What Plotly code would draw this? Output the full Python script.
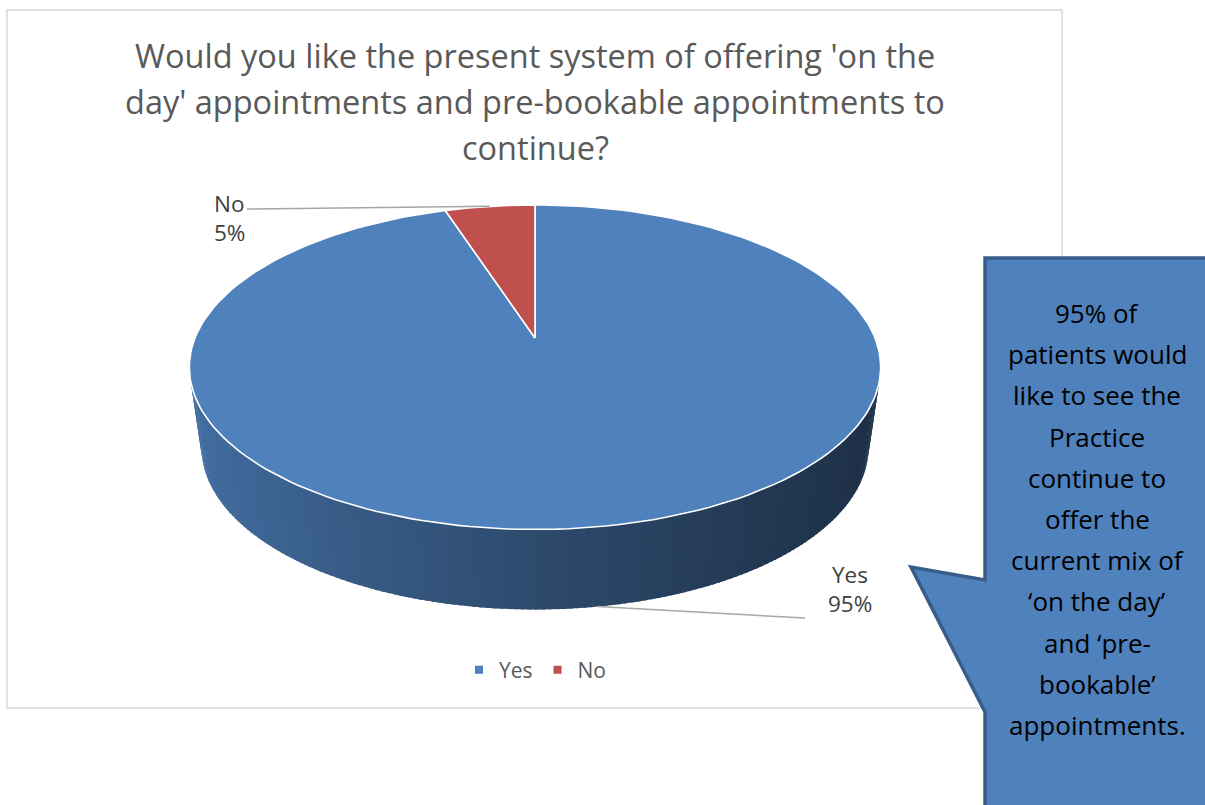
import numpy as np
import plotly.graph_objects as go

# Survey answers
categories = ["Yes", "No"]
shares = [95, 5]
slice_colors = ["#4F81BD", "#C0504D"]

title_lines = [
    "Would you like the present system of offering 'on the",
    "day' appointments and pre-bookable appointments to",
    "continue?",
]

callout_lines = [
    "95% of", "patients would", "like to see the", "Practice",
    "continue to", "offer the", "current mix of", "\u2018on the day\u2019",
    "and \u2018pre-", "bookable\u2019", "appointments.",
]

W, H = 1205, 805
FONT = "Open Sans, sans-serif"

# 3-D pie geometry (pixel space, y grows downward)
CX, CY = 535, 338
RX, RY = 340, 157
PERSP = 0.18
DEPTH = 80
BOTTOM_SHRINK = 0.965   # lower rim sits a little further from the eye


def project(phi, drop=0.0):
    """Project a rim angle (clockwise from 12 o'clock) onto the tilted disc."""
    u = np.sin(phi)
    v = np.cos(phi)
    s = 1 + PERSP * v
    k = BOTTOM_SHRINK if drop else 1.0
    return CX + k * RX * u / s, CY - RY * v / s + drop


def rgb(hex_color):
    h = hex_color.lstrip("#")
    return [int(h[i:i + 2], 16) for i in (0, 2, 4)]


total = float(sum(shares))
bounds = np.concatenate([[0.0], np.cumsum(shares) / total * 2 * np.pi])

fig = go.Figure()

# Visible wall of the disc lies between the two silhouette angles
sil = np.arccos(-PERSP)
wall_lo, wall_hi = sil, 2 * np.pi - sil

for i, cat in enumerate(categories):
    a0, a1 = max(bounds[i], wall_lo), min(bounds[i + 1], wall_hi)
    if a1 <= a0:
        continue
    base = np.array(rgb(slice_colors[i]), dtype=float)
    n = max(2, int(np.degrees(a1 - a0) / 1.0))
    step = (a1 - a0) / n
    edges = np.linspace(a0, a1, n + 1)
    for j in range(n):
        p0 = edges[j]
        p1 = min(edges[j + 1] + 0.6 * step, a1)   # slight overlap hides seams
        arc = np.linspace(p0, p1, 4)
        tx, ty = project(arc)
        bx, by = project(arc[::-1], DEPTH)
        xm = float(np.mean(tx))
        t = np.clip((xm - (CX - RX)) / (2 * RX), 0, 1)
        f = 0.85 - 0.47 * t ** 0.8
        c = "rgb(%d,%d,%d)" % tuple((base * f).astype(int))
        fig.add_trace(go.Scatter(
            x=np.concatenate([tx, bx, tx[:1]]),
            y=np.concatenate([ty, by, ty[:1]]),
            mode="lines", fill="toself", fillcolor=c,
            line=dict(width=0), hoverinfo="skip", showlegend=False,
        ))

# Top faces of the slices
for i, cat in enumerate(categories):
    phis = np.linspace(bounds[i], bounds[i + 1], 200)
    ax, ay = project(phis)
    xs = np.concatenate([[CX], ax, [CX]])
    ys = np.concatenate([[CY], ay, [CY]])
    fig.add_trace(go.Scatter(
        x=xs, y=ys, mode="lines", fill="toself",
        fillcolor=slice_colors[i], line=dict(color="white", width=1.6),
        name=cat, hoverinfo="skip", showlegend=False,
    ))

# Legend keys
for i, cat in enumerate(categories):
    fig.add_trace(go.Scatter(
        x=[None], y=[None], mode="markers", name=cat,
        marker=dict(symbol="square", size=8, color=slice_colors[i]),
    ))

# Data labels with leader lines
label_pos = {"No": (229, 203), "Yes": (850, 574)}
leader_start = {"No": (247, 209), "Yes": (805, 618)}
annotations = []
for i, cat in enumerate(categories):
    mid = (bounds[i] + bounds[i + 1]) / 2
    on_front = np.cos(mid) < -PERSP
    ex, ey = project(mid, DEPTH if on_front else 0.0)
    sx, sy = leader_start[cat]
    fig.add_trace(go.Scatter(
        x=[sx, ex], y=[sy, ey], mode="lines",
        line=dict(color="#A6A6A6", width=1.5),
        hoverinfo="skip", showlegend=False,
    ))
    lx, ly = label_pos[cat]
    for k, txt in enumerate([cat, "%d%%" % shares[i]]):
        annotations.append(dict(
            x=lx, y=ly + 29 * k, xref="x", yref="y", text=txt,
            showarrow=False, xanchor="center", yanchor="middle",
            font=dict(family=FONT, size=22.5, color="#404040"),
        ))

# Title
for k, line in enumerate(title_lines):
    annotations.append(dict(
        x=535, y=55 + 46 * k, xref="x", yref="y", text=line,
        showarrow=False, xanchor="center", yanchor="middle",
        font=dict(family=FONT, size=32.5, color="#595959"),
    ))

# Callout text
for k, line in enumerate(callout_lines):
    annotations.append(dict(
        x=1097, y=313 + 41.2 * k, xref="x", yref="y", text=line,
        showarrow=False, xanchor="center", yanchor="middle",
        font=dict(family=FONT, size=26, color="#000000"),
    ))

shapes = [
    # chart frame
    dict(type="rect", xref="x", yref="y", x0=7, y0=10, x1=1062, y1=708,
         line=dict(color="#D9D9D9", width=1.5), fillcolor="rgba(0,0,0,0)",
         layer="below"),
    # callout box
    dict(type="path", xref="x", yref="y",
         path="M 985 258 L 1215 258 L 1215 815 L 985 815 L 985 712 "
              "L 911 567 L 985 580 Z",
         line=dict(color="#385D8A", width=3.5), fillcolor="#4F81BD",
         layer="above"),
]

fig.update_layout(
    width=W, height=H, autosize=False,
    margin=dict(l=0, r=0, t=0, b=0),
    paper_bgcolor="white", plot_bgcolor="white",
    xaxis=dict(range=[0, W], visible=False, fixedrange=True),
    yaxis=dict(range=[H, 0], visible=False, fixedrange=True),
    showlegend=True,
    legend=dict(
        orientation="h", x=535 / W, xanchor="center",
        y=1 - 670 / H, yanchor="middle",
        font=dict(family=FONT, size=21, color="#595959"),
        itemwidth=30, bgcolor="rgba(0,0,0,0)",
        tracegroupgap=0,
    ),
    shapes=shapes,
    annotations=annotations,
)

fig.write_html("out.html")
